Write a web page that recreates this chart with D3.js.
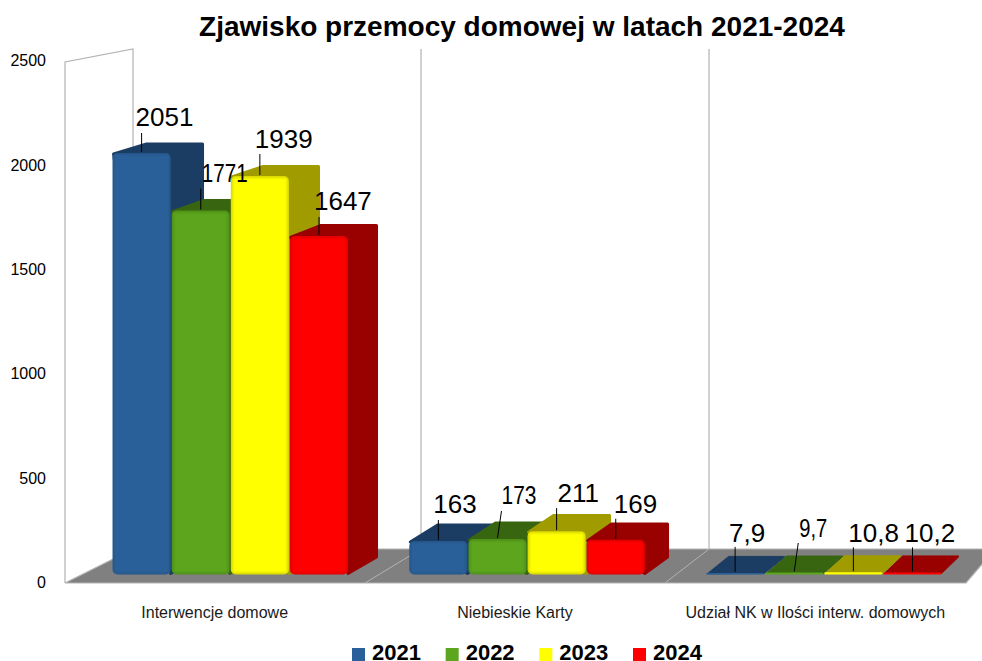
<!DOCTYPE html>
<html>
<head>
<meta charset="utf-8">
<script src="https://d3js.org/d3.v7.min.js"></script>
<style>
html,body{margin:0;padding:0;background:#fff;}
svg{display:block;}
text{font-family:"Liberation Sans",Arial,sans-serif;}
</style>
</head>
<body>
<div id="chart"></div>
<script>
// dane
var title = "Zjawisko przemocy domowej w latach 2021-2024";
var categories = ["Interwencje domowe", "Niebieskie Karty", "Udział NK w Ilości interw. domowych"];
var years = ["2021", "2022", "2023", "2024"];
var values2021 = [2051, 163, 7.9];
var values2022 = [1771, 173, 9.7];
var values2023 = [1939, 211, 10.8];
var values2024 = [1647, 169, 10.2];
var yTicks = [0, 500, 1000, 1500, 2000, 2500];

var colors = ["#2a6099", "#5ca51e", "#ffff00", "#ff0000"];
var edgeColors = ["#26578b", "#4f8f1a", "#d8d800", "#e00000"];
var sideColors = ["#1b3d63", "#38650f", "#a09c00", "#990000"];

// polozenie etykiet wzgledem srodka slupka: koniec odnosnika (lx, ly), poczatek tekstu (tx), linia bazowa (ty), szerokosc scisnieta (w)
var labelLayout = [
    [{lx:0,ly:-19,tx:-6,ty:-7},{lx:0,ly:-21,tx:1,ty:-7,w:46},{lx:0,ly:-21,tx:-5,ty:-6},{lx:0,ly:-18,tx:-5,ty:-7}],
    [{lx:0,ly:-20,tx:-5,ty:-7},{lx:4,ly:-27,tx:4,ty:-7,w:35},{lx:0,ly:-22,tx:1,ty:-6},{lx:0,ly:-20,tx:-2,ty:-6}],
    [{lx:0,ly:-25,tx:-6,ty:-5},{lx:4,ly:-28.5,tx:5,ty:-6,w:28},{lx:0,ly:-24,tx:-5,ty:-5},{lx:0,ly:-24,tx:-8,ty:-5}]
];

var width = 982, height = 661;
var series = [values2021, values2022, values2023, values2024];

var svg = d3.select("#chart").append("svg")
    .attr("width", width).attr("height", height);

var defs = svg.append("defs");
defs.append("filter").attr("id", "soft")
    .attr("x", "-10%").attr("y", "-10%").attr("width", "120%").attr("height", "120%")
    .append("feGaussianBlur").attr("stdDeviation", 1);

// skale
var yAxisScale = d3.scaleLinear().domain([0, 2500]).range([582.5, 60.5]);
var yFront = d3.scaleLinear().domain([0, 2051]).range([574.5, 153]);
var yBack = d3.scaleLinear().domain([0, 2051]).range([557, 143]);
var xCat = d3.scaleBand().domain(categories).range([65, 966]);
var xGroup = d3.scaleBand().domain(categories).range([51.8, 1002.3]).paddingInner(0.203).paddingOuter(0.203);
var xBar = d3.scaleBand().domain(years).range([0, xGroup.bandwidth()]);
var depth = d3.scaleLinear().domain([112, 942]).range([34, 18]);
var line = d3.line();

// sciany i podloga
var floorTop = 549, floorBottom = 583, wallTop = 49, wallLeftTop = 62;
var backX = [133, 421, 709];
var frontX = [65, 365, 665];
var wallColor = "#b3b3b3";

svg.append("path")
    .attr("d", line([[65, floorBottom], [133, floorTop], [995, floorTop], [966, floorBottom]]) + "Z")
    .attr("fill", "#808080").attr("stroke", wallColor).attr("stroke-width", 1.2);

svg.append("path")
    .attr("d", line([[65, floorBottom], [65, wallLeftTop], [133, wallTop], [133, floorTop]]))
    .attr("fill", "none").attr("stroke", wallColor).attr("stroke-width", 1.2);

backX.forEach(function(bx, i){
    if(i > 0){
        svg.append("path").attr("d", line([[bx, wallTop], [bx, floorTop]]))
            .attr("stroke", wallColor).attr("stroke-width", 1.2).attr("fill", "none");
        svg.append("path").attr("d", line([[frontX[i], floorBottom], [bx, floorTop]]))
            .attr("stroke", wallColor).attr("stroke-width", 1).attr("fill", "none");
    }
});

// os Y
var yAxis = svg.append("g").attr("transform", "translate(47,0)")
    .call(d3.axisLeft(yAxisScale).tickValues(yTicks).tickSize(0).tickPadding(1).tickFormat(d3.format("d")));
yAxis.select(".domain").remove();
yAxis.selectAll("text").style("font-size", "16px").style("font-family", '"Liberation Sans"').attr("fill", "#000");

// slupki
var bars = [];
categories.forEach(function(cat, c){
    years.forEach(function(year, s){
        bars.push({cat:cat, c:c, s:s, year:year, value:series[s][c]});
    });
});

var barG = svg.selectAll(".bar").data(bars).enter().append("g").attr("class", "bar");

barG.each(function(d, i){
    var g = d3.select(this);
    var x0 = xGroup(d.cat) + xBar(d.year) + 0.5;
    var x1 = x0 + xBar.bandwidth() - 1;
    var dx0 = depth(x0), dx1 = depth(x1);
    var yt = yFront(d.value), yb = yFront(0);
    var ytb = yBack(d.value), ybb = yBack(0);

    // bok i wierzch
    g.append("path")
        .attr("d", line([[x0 + 1, yt + 1], [x0 + dx0, ytb + 1], [x1 + dx1 - 1, ytb + 1], [x1 + dx1 - 1, ybb], [x1, yb - 1]]) + "Z")
        .attr("fill", sideColors[d.s]).attr("stroke", sideColors[d.s])
        .attr("stroke-width", d.c == 2 ? 1 : 3).attr("stroke-linejoin", "round");

    // przod
    var h = yb - yt;
    var r = Math.min(5, h / 2);
    g.append("rect").attr("x", x0).attr("y", yt).attr("width", x1 - x0).attr("height", h)
        .attr("rx", r).attr("fill", d.c == 2 ? colors[d.s] : edgeColors[d.s]);
    if(h > 8){
        var clipId = "clip" + i;
        defs.append("clipPath").attr("id", clipId)
            .append("rect").attr("x", x0).attr("y", yt).attr("width", x1 - x0).attr("height", h).attr("rx", r);
        g.append("g").attr("clip-path", "url(#" + clipId + ")")
            .append("rect").attr("x", x0 + 2).attr("y", yt + 2)
            .attr("width", x1 - x0 - 4).attr("height", h - 4)
            .attr("fill", colors[d.s]).attr("filter", "url(#soft)");
    }
});

// etykiety wartosci
var labels = svg.selectAll(".valueLabel").data(bars).enter().append("g").attr("class", "valueLabel");
labels.each(function(d){
    var g = d3.select(this);
    var cx = xGroup(d.cat) + xBar(d.year) + xBar.bandwidth() / 2;
    var top = yFront(d.value) - 1;
    var l = labelLayout[d.c][d.s];
    var endY = top + l.ly;
    g.append("path").attr("d", line([[cx, top], [cx + l.lx, endY]]))
        .attr("stroke", "#000").attr("stroke-width", 1).attr("fill", "none");
    var t = g.append("text").attr("x", cx + l.tx).attr("y", endY + l.ty)
        .style("font-size", "26px").attr("fill", "#000")
        .text(String(d.value).replace(".", ","));
    if(l.w){
        t.attr("textLength", l.w).attr("lengthAdjust", "spacingAndGlyphs");
    }
});

// etykiety kategorii
svg.selectAll(".catLabel").data(categories).enter().append("text")
    .attr("class", "catLabel")
    .attr("x", function(d){ return xCat(d) + xCat.bandwidth() / 2 - 0.5; })
    .attr("y", 618)
    .attr("text-anchor", "middle")
    .style("font-size", "16px").attr("fill", "#1a1a1a")
    .text(function(d){ return d; });

// tytul
svg.append("text").attr("x", 522).attr("y", 36).attr("text-anchor", "middle")
    .style("font-size", "28px").style("font-weight", "bold").attr("fill", "#000")
    .text(title);

// legenda
var xLegend = d3.scalePoint().domain(years).range([352, 633]);
var legend = svg.selectAll(".legend").data(years).enter().append("g")
    .attr("class", "legend")
    .attr("transform", function(d){ return "translate(" + xLegend(d) + ",648)"; });
legend.append("rect").attr("width", 13).attr("height", 13)
    .attr("fill", function(d, i){ return colors[i]; });
legend.append("text").attr("x", 20).attr("y", 12)
    .style("font-size", "22px").style("font-weight", "bold").attr("fill", "#000")
    .text(function(d){ return d; });
</script>
</body>
</html>
